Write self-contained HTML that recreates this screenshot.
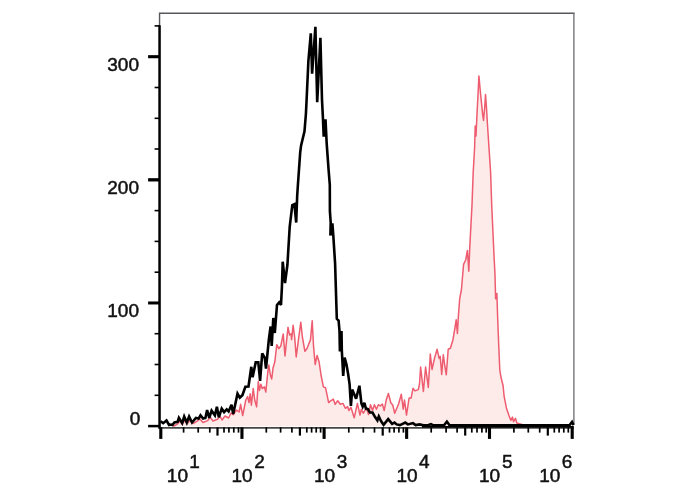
<!DOCTYPE html>
<html><head><meta charset="utf-8"><title>Histogram</title>
<style>
html,body{margin:0;padding:0;background:#fff;}
body{width:688px;height:490px;overflow:hidden;}
svg{display:block;filter:blur(0.4px);}
</style></head><body>
<svg width="688" height="490" viewBox="0 0 688 490">
<rect width="688" height="490" fill="#fff"/>
<!-- red filled histogram -->
<polygon points="173,426.3 173.0,426.3 175.5,425.2 177.6,423.8 180.0,421.0 182.0,424.0 185.0,420.5 187.0,424.0 190.0,420.0 193.0,423.5 197.2,421.2 200.0,419.0 203.0,422.5 207.7,420.6 210.0,417.0 213.0,421.0 217.5,419.2 220.0,416.0 222.0,420.0 225.0,416.0 228.6,418.0 231.0,413.0 233.2,414.7 236.5,410.0 239.1,412.0 240.6,404.3 242.7,415.6 245.8,400.0 247.6,396.5 249.0,402.6 250.2,393.8 251.4,405.2 253.2,388.6 254.9,400.8 256.6,406.9 258.3,381.6 259.5,390.4 260.9,384.2 262.3,388.6 264.4,386.9 265.8,392.1 267.9,371.2 268.8,365.1 270.5,375.5 271.7,379.0 273.1,367.7 274.8,362.0 276.8,344.7 278.8,348.7 280.9,345.7 283.2,333.9 285.0,355.9 288.0,327.3 289.6,335.0 291.1,333.9 291.6,339.6 293.1,325.3 294.7,337.5 296.2,356.9 298.2,341.6 300.8,322.2 302.3,336.5 304.9,351.3 306.9,348.7 310.5,339.6 312.2,320.7 313.5,345.7 315.2,364.5 317.1,355.4 319.1,362.0 321.1,375.5 323.4,386.9 325.5,387.7 327.2,395.6 328.6,402.6 330.7,400.8 333.3,399.1 335.1,404.3 337.7,400.8 340.3,404.3 342.9,403.4 345.5,408.3 347.6,406.6 348.9,410.6 350.9,407.3 354.2,417.8 357.4,403.4 360.0,415.1 361.4,409.2 363.3,413.2 366.6,407.9 368.5,414.5 370.5,404.7 372.5,410.6 374.4,404.7 376.4,409.2 378.4,404.7 380.3,406.0 382.3,404.0 384.2,410.6 386.2,400.1 388.4,393.5 390.8,402.7 392.8,405.3 394.7,413.2 398.6,404.0 401.3,394.2 403.2,409.2 404.5,400.1 406.5,415.1 409.1,398.1 411.1,398.1 413.0,388.3 415.0,390.9 418.3,389.6 419.5,384.0 420.6,367.0 423.4,391.5 425.6,367.0 428.3,387.5 430.3,354.0 432.0,369.5 434.6,358.0 437.1,349.3 439.2,358.5 440.2,356.5 441.7,374.5 443.3,354.8 444.8,366.0 446.3,374.8 448.2,349.3 450.4,348.3 452.9,340.0 454.7,329.5 456.2,319.7 457.4,333.6 458.5,314.4 459.7,298.7 461.4,290.0 463.6,264.3 465.7,260.0 467.4,250.4 468.8,271.3 469.7,248.6 470.9,225.9 472.0,205.0 473.2,172.3 474.6,148.0 475.2,126.0 476.0,136.0 477.0,114.0 478.1,93.2 478.9,75.9 480.5,93.2 482.5,113.1 483.5,120.4 484.8,106.4 485.5,94.5 486.4,106.4 487.5,125.0 488.9,146.2 490.6,172.3 491.7,205.0 492.9,231.2 494.1,257.3 495.0,274.8 495.6,298.7 496.9,293.5 497.6,316.2 498.6,342.3 499.8,370.0 501.1,377.8 503.1,385.7 504.1,396.2 506.4,407.9 509.0,415.8 510.9,420.4 512.5,417.1 513.5,421.7 515.5,418.4 516.8,423.0 522.7,424.6 526.0,425.6 569.0,425.6 569,426.3" fill="#fdebe9" stroke="none"/>
<polyline points="173.0,426.3 175.5,425.2 177.6,423.8 180.0,421.0 182.0,424.0 185.0,420.5 187.0,424.0 190.0,420.0 193.0,423.5 197.2,421.2 200.0,419.0 203.0,422.5 207.7,420.6 210.0,417.0 213.0,421.0 217.5,419.2 220.0,416.0 222.0,420.0 225.0,416.0 228.6,418.0 231.0,413.0 233.2,414.7 236.5,410.0 239.1,412.0 240.6,404.3 242.7,415.6 245.8,400.0 247.6,396.5 249.0,402.6 250.2,393.8 251.4,405.2 253.2,388.6 254.9,400.8 256.6,406.9 258.3,381.6 259.5,390.4 260.9,384.2 262.3,388.6 264.4,386.9 265.8,392.1 267.9,371.2 268.8,365.1 270.5,375.5 271.7,379.0 273.1,367.7 274.8,362.0 276.8,344.7 278.8,348.7 280.9,345.7 283.2,333.9 285.0,355.9 288.0,327.3 289.6,335.0 291.1,333.9 291.6,339.6 293.1,325.3 294.7,337.5 296.2,356.9 298.2,341.6 300.8,322.2 302.3,336.5 304.9,351.3 306.9,348.7 310.5,339.6 312.2,320.7 313.5,345.7 315.2,364.5 317.1,355.4 319.1,362.0 321.1,375.5 323.4,386.9 325.5,387.7 327.2,395.6 328.6,402.6 330.7,400.8 333.3,399.1 335.1,404.3 337.7,400.8 340.3,404.3 342.9,403.4 345.5,408.3 347.6,406.6 348.9,410.6 350.9,407.3 354.2,417.8 357.4,403.4 360.0,415.1 361.4,409.2 363.3,413.2 366.6,407.9 368.5,414.5 370.5,404.7 372.5,410.6 374.4,404.7 376.4,409.2 378.4,404.7 380.3,406.0 382.3,404.0 384.2,410.6 386.2,400.1 388.4,393.5 390.8,402.7 392.8,405.3 394.7,413.2 398.6,404.0 401.3,394.2 403.2,409.2 404.5,400.1 406.5,415.1 409.1,398.1 411.1,398.1 413.0,388.3 415.0,390.9 418.3,389.6 419.5,384.0 420.6,367.0 423.4,391.5 425.6,367.0 428.3,387.5 430.3,354.0 432.0,369.5 434.6,358.0 437.1,349.3 439.2,358.5 440.2,356.5 441.7,374.5 443.3,354.8 444.8,366.0 446.3,374.8 448.2,349.3 450.4,348.3 452.9,340.0 454.7,329.5 456.2,319.7 457.4,333.6 458.5,314.4 459.7,298.7 461.4,290.0 463.6,264.3 465.7,260.0 467.4,250.4 468.8,271.3 469.7,248.6 470.9,225.9 472.0,205.0 473.2,172.3 474.6,148.0 475.2,126.0 476.0,136.0 477.0,114.0 478.1,93.2 478.9,75.9 480.5,93.2 482.5,113.1 483.5,120.4 484.8,106.4 485.5,94.5 486.4,106.4 487.5,125.0 488.9,146.2 490.6,172.3 491.7,205.0 492.9,231.2 494.1,257.3 495.0,274.8 495.6,298.7 496.9,293.5 497.6,316.2 498.6,342.3 499.8,370.0 501.1,377.8 503.1,385.7 504.1,396.2 506.4,407.9 509.0,415.8 510.9,420.4 512.5,417.1 513.5,421.7 515.5,418.4 516.8,423.0 522.7,424.6 526.0,425.6 569.0,425.6" fill="none" stroke="#ee5c70" stroke-width="1.5" stroke-linejoin="round"/>
<!-- frame -->
<polyline points="159.55,26 159.55,13.3 574.6,13.3" fill="none" stroke="#58585c" stroke-width="1.4"/>
<line x1="573.9" y1="13.3" x2="573.9" y2="424" stroke="#74747c" stroke-width="1.4"/>
<!-- black histogram -->
<polyline points="160.6,421.2 163.2,423.2 166.5,420.5 169.1,425.0 171.1,424.6 172.4,425.0 174.4,422.5 177.6,421.9 178.9,417.9 182.2,423.2 184.2,416.6 186.8,422.5 189.1,416.6 192.0,422.5 195.9,417.9 198.6,418.6 200.5,415.3 203.1,418.6 205.4,417.9 207.1,410.0 209.3,417.9 211.6,410.7 214.9,415.3 216.9,406.8 218.8,417.3 221.7,408.7 224.1,412.1 226.7,409.4 228.6,411.4 231.5,404.8 233.2,414.0 237.5,393.7 239.8,397.7 242.4,395.2 245.4,386.7 248.5,386.5 251.3,366.8 252.6,377.3 255.7,362.4 258.3,362.4 260.1,380.8 262.2,353.3 264.8,358.0 266.0,368.5 268.8,340.0 270.6,326.5 271.7,346.0 273.3,318.0 274.8,333.0 277.0,304.9 279.2,302.3 281.0,304.9 281.9,287.4 282.7,261.7 285.0,283.0 287.4,265.0 289.7,226.9 292.3,205.1 294.4,204.2 296.2,222.5 297.2,195.5 297.9,185.0 300.2,152.3 301.1,145.4 304.5,131.4 305.9,114.0 306.6,100.0 308.4,60.9 310.8,33.3 312.1,73.7 315.4,26.9 317.2,102.2 320.4,37.9 322.0,100.0 322.9,117.4 323.7,136.6 325.5,119.2 326.7,143.6 328.6,169.8 329.8,185.0 329.9,211.2 330.7,222.5 330.4,235.6 332.4,223.4 333.3,235.6 335.1,263.5 335.6,280.0 336.8,318.8 338.6,320.6 339.5,331.0 339.9,351.5 341.5,331.0 341.8,350.0 343.2,376.0 344.6,357.5 346.5,364.5 348.2,374.5 349.6,384.4 350.9,406.0 352.2,389.6 356.1,398.8 359.4,385.7 361.4,403.4 362.7,406.6 364.4,402.7 365.9,408.6 367.9,409.2 369.9,412.5 372.5,412.5 375.1,417.1 377.4,420.4 378.8,416.4 381.0,421.0 383.6,424.9 388.2,419.1 392.1,423.8 394.5,422.5 396.7,424.4 399.9,425.1 402.6,423.8 405.2,422.5 407.8,424.4 410.4,423.8 413.0,423.1 415.6,425.1 419.6,424.4 423.5,425.2 428.0,425.2 430.9,424.2 433.0,425.2 444.0,425.2 446.9,421.6 449.5,425.2 500.0,425.2 540.0,425.2 569.5,425.2 572.0,422.0 573.6,425.2" fill="none" stroke="#000" stroke-width="2.6" stroke-linejoin="miter" stroke-miterlimit="3"/>
<!-- axes -->
<rect x="158.3" y="25.3" width="2.5" height="403.3" fill="#000"/>
<rect x="158.4" y="427.2" width="415.4" height="1.4" fill="#1a1a1a"/>
<rect x="422" y="426" width="151.8" height="1.6" fill="#000"/>
<rect x="159.25" y="427.3" width="3.1" height="11.6" fill="#000"/>
<rect x="240.40" y="427.3" width="3.1" height="11.6" fill="#000"/>
<rect x="322.55" y="427.3" width="3.1" height="11.6" fill="#000"/>
<rect x="405.10" y="427.3" width="3.1" height="11.6" fill="#000"/>
<rect x="487.95" y="427.3" width="3.1" height="11.6" fill="#000"/>
<rect x="570.65" y="427.3" width="3.1" height="11.6" fill="#000"/>
<rect x="182.75" y="427.3" width="1.7" height="5.3" fill="#000"/>
<rect x="197.35" y="427.3" width="1.7" height="5.3" fill="#000"/>
<rect x="208.95" y="427.3" width="1.7" height="5.3" fill="#000"/>
<rect x="216.40" y="427.3" width="2.2" height="8.3" fill="#000"/>
<rect x="223.15" y="427.3" width="1.7" height="5.3" fill="#000"/>
<rect x="228.05" y="427.3" width="1.7" height="5.3" fill="#000"/>
<rect x="232.95" y="427.3" width="1.7" height="5.3" fill="#000"/>
<rect x="237.65" y="427.3" width="1.7" height="5.3" fill="#000"/>
<rect x="265.45" y="427.3" width="1.7" height="5.3" fill="#000"/>
<rect x="279.75" y="427.3" width="1.7" height="5.3" fill="#000"/>
<rect x="291.05" y="427.3" width="1.7" height="5.3" fill="#000"/>
<rect x="298.80" y="427.3" width="2.2" height="8.3" fill="#000"/>
<rect x="305.95" y="427.3" width="1.7" height="5.3" fill="#000"/>
<rect x="310.75" y="427.3" width="1.7" height="5.3" fill="#000"/>
<rect x="315.35" y="427.3" width="1.7" height="5.3" fill="#000"/>
<rect x="319.75" y="427.3" width="1.7" height="5.3" fill="#000"/>
<rect x="347.95" y="427.3" width="1.7" height="5.3" fill="#000"/>
<rect x="362.45" y="427.3" width="1.7" height="5.3" fill="#000"/>
<rect x="373.65" y="427.3" width="1.7" height="5.3" fill="#000"/>
<rect x="381.60" y="427.3" width="2.2" height="8.3" fill="#000"/>
<rect x="388.65" y="427.3" width="1.7" height="5.3" fill="#000"/>
<rect x="393.25" y="427.3" width="1.7" height="5.3" fill="#000"/>
<rect x="398.05" y="427.3" width="1.7" height="5.3" fill="#000"/>
<rect x="402.55" y="427.3" width="1.7" height="5.3" fill="#000"/>
<rect x="430.35" y="427.3" width="1.7" height="5.3" fill="#000"/>
<rect x="445.25" y="427.3" width="1.7" height="5.3" fill="#000"/>
<rect x="456.25" y="427.3" width="1.7" height="5.3" fill="#000"/>
<rect x="464.10" y="427.3" width="2.2" height="8.3" fill="#000"/>
<rect x="470.95" y="427.3" width="1.7" height="5.3" fill="#000"/>
<rect x="476.15" y="427.3" width="1.7" height="5.3" fill="#000"/>
<rect x="481.05" y="427.3" width="1.7" height="5.3" fill="#000"/>
<rect x="485.35" y="427.3" width="1.7" height="5.3" fill="#000"/>
<rect x="513.05" y="427.3" width="1.7" height="5.3" fill="#000"/>
<rect x="527.45" y="427.3" width="1.7" height="5.3" fill="#000"/>
<rect x="538.85" y="427.3" width="1.7" height="5.3" fill="#000"/>
<rect x="546.70" y="427.3" width="2.2" height="8.3" fill="#000"/>
<rect x="553.45" y="427.3" width="1.7" height="5.3" fill="#000"/>
<rect x="558.25" y="427.3" width="1.7" height="5.3" fill="#000"/>
<rect x="562.95" y="427.3" width="1.7" height="5.3" fill="#000"/>
<rect x="567.45" y="427.3" width="1.7" height="5.3" fill="#000"/>
<rect x="148.1" y="424.85" width="11.5" height="2.5" fill="#000"/>
<rect x="154.6" y="394.5" width="5" height="1.6" fill="#000"/>
<rect x="154.6" y="363.7" width="5" height="1.6" fill="#000"/>
<rect x="154.6" y="332.9" width="5" height="1.6" fill="#000"/>
<rect x="148.1" y="301.47" width="11.5" height="3.0" fill="#000"/>
<rect x="154.6" y="271.4" width="5" height="1.6" fill="#000"/>
<rect x="154.6" y="240.6" width="5" height="1.6" fill="#000"/>
<rect x="154.6" y="209.8" width="5" height="1.6" fill="#000"/>
<rect x="148.1" y="178.18" width="11.5" height="3.3" fill="#000"/>
<rect x="154.6" y="148.2" width="5" height="1.6" fill="#000"/>
<rect x="154.6" y="117.5" width="5" height="1.6" fill="#000"/>
<rect x="154.6" y="86.7" width="5" height="1.6" fill="#000"/>
<rect x="148.1" y="55.15" width="11.5" height="3.1" fill="#000"/>
<rect x="154.6" y="25.1" width="5" height="1.6" fill="#000"/>
<g fill="#111" stroke="#111" stroke-width="0.5" stroke-linejoin="round" font-family="'Liberation Sans', sans-serif" font-size="19">
<text x="166.85" y="481.8">10</text><text x="189.35" y="467.5">1</text>
<text x="231.45" y="481.8">10</text><text x="254.15" y="467.5">2</text>
<text x="314.05" y="481.8">10</text><text x="336.8" y="467.5">3</text>
<text x="396.45" y="481.8">10</text><text x="419.05" y="467.5">4</text>
<text x="479.05" y="481.8">10</text><text x="501.95" y="467.5">5</text>
<text x="539.2" y="481.8">10</text><text x="561.7" y="467.5">6</text>
<text x="107.28" y="70.6">300</text>
<text x="107.28" y="193.6">200</text>
<text x="107.28" y="316.8">100</text>
<text x="129.69" y="425.3">0</text>
</g>
</svg>
</body></html>
